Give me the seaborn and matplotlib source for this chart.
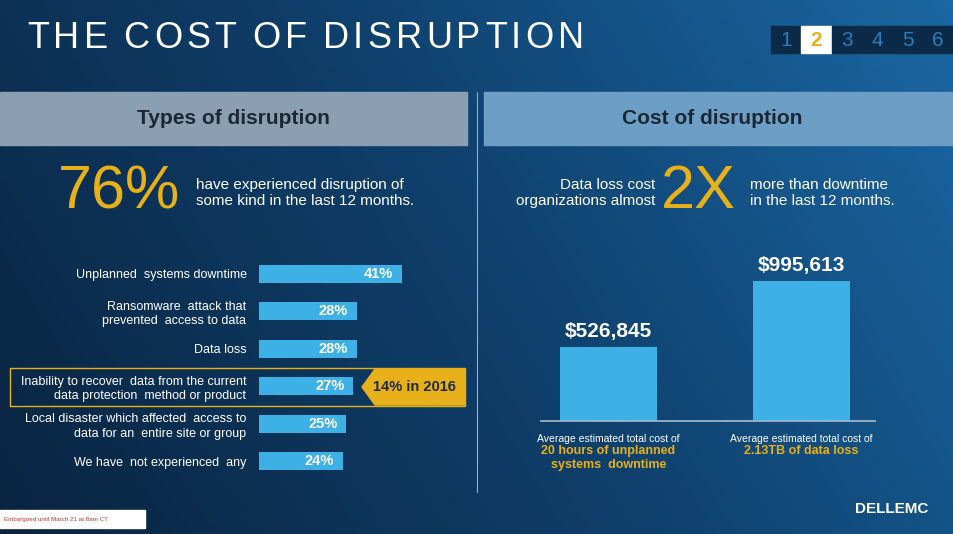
import numpy as np
import pandas as pd
import matplotlib
matplotlib.use("Agg")
import matplotlib.pyplot as plt
from matplotlib.patches import Rectangle, Polygon
from matplotlib.colors import LinearSegmentedColormap
import seaborn as sns

# data
types = ["Unplanned  systems downtime",
         "Ransomware  attack that\nprevented  access to data",
         "Data loss",
         "Inability to recover  data from the current\ndata protection  method or product",
         "Local disaster which affected  access to\ndata for an  entire site or group",
         "We have  not experienced  any"]
type_pct = [41, 28, 28, 27, 25, 24]
cost_labels = ["downtime", "data loss"]
cost_values = [526845, 995613]
cost_captions = [("Average estimated total cost of", "20 hours of unplanned\nsystems  downtime"),
                 ("Average estimated total cost of", "2.13TB of data loss")]

W, H = 954, 534
BAR = "#3db0e6"
YEL = "#e8b019"

sns.set_theme(style="white")
plt.rcParams["font.family"] = ["Liberation Sans", "DejaVu Sans"]

fig = plt.figure(figsize=(W / 100, H / 100), dpi=100)


def px(x, y):
    return x / W, 1 - y / H


def ax_px(x0, y0, x1, y1):
    return fig.add_axes([x0 / W, 1 - y1 / H, (x1 - x0) / W, (y1 - y0) / H])


# background gradient
bg = fig.add_axes([0, 0, 1, 1])
gx, gy = np.meshgrid(np.linspace(0, 1, 200), np.linspace(0, 1, 120))
cmap = LinearSegmentedColormap.from_list("bg", ["#0a2440", "#0f3f6b", "#1a67a3"])
bg.imshow(0.75 * gx + 0.25 * (1 - gy), cmap=cmap, aspect="auto", extent=[0, W, H, 0])
bg.set_xlim(0, W)
bg.set_ylim(H, 0)
bg.axis("off")

# header bands
bg.add_patch(Rectangle((0, 92), 467, 53, color="#8a9fb2"))
bg.add_patch(Rectangle((484, 92), 470, 53, color="#6d9ec6"))
bg.plot([477, 477], [92, 492], color="#8fb0cc", lw=0.8)

# page tabs
for i in range(6):
    x0 = 771 + i * 30.5
    face = "white" if i == 1 else "#0b2a47"
    bg.add_patch(Rectangle((x0, 26), 29.5, 27, color=face))
    bg.text(x0 + 14.7, 40, str(i + 1), ha="center", va="center", fontsize=15,
            color=YEL if i == 1 else "#2a7cc0", fontweight="bold" if i == 1 else "normal")

# highlight box and arrow
bg.add_patch(Rectangle((10, 368), 455, 38, fill=False, ec=YEL, lw=1))
bg.add_patch(Polygon([(375, 369), (465, 369), (465, 405), (375, 405), (362, 387)], color=YEL))
bg.text(414, 387, "14% in 2016", ha="center", va="center", fontsize=10.5,
        fontweight="bold", color="#1e2a36")

# footer
bg.add_patch(Rectangle((0, 510), 145, 18, color="white"))
bg.text(4, 519, "Embargoed until March 21 at 8am CT", fontsize=4.5, color="#c0392b", va="center")
bg.text(892, 509, "DELLEMC", ha="center", va="center", fontsize=11, color="white", fontweight="bold")

# title with letter spacing
renderer = fig.canvas.get_renderer()
x = 27
for ch in "THE COST OF DISRUPTION":
    t = bg.text(x, 38, ch, fontsize=26, color="white", va="center")
    x += t.get_window_extent(renderer).width if ch != " " else 7
    x += 4.3

fig.text(*px(233, 119), "Types of disruption", fontsize=15, fontweight="bold", color="#1b2733",
         ha="center", va="center")
fig.text(*px(712, 119), "Cost of disruption", fontsize=15, fontweight="bold", color="#1b2733",
         ha="center", va="center")
fig.text(*px(58, 193), "76%", fontsize=44, color=YEL, va="center")
fig.text(*px(196, 193), "have experienced disruption of\nsome kind in the last 12 months.",
         fontsize=11, color="white", va="center", linespacing=1.1)
fig.text(*px(655, 193), "Data loss cost\norganizations almost", fontsize=11, color="white",
         va="center", ha="right", linespacing=1.1)
fig.text(*px(698, 193), "2X", fontsize=44, color=YEL, va="center", ha="center")
fig.text(*px(750, 193), "more than downtime\nin the last 12 months.", fontsize=11, color="white",
         va="center", linespacing=1.1)

# left bar chart
ax1 = ax_px(259, 255, 468, 480)
df1 = pd.DataFrame({"type": types, "pct": type_pct})
sns.barplot(data=df1, y="type", x="pct", orient="h", color=BAR, saturation=1, width=0.48,
            linewidth=0, edgecolor="none", ax=ax1)
ax1.set_xlim(0, 60)
ax1.set_ylim(5.5, -0.5)
ax1.set_xticks([])
ax1.set_xlabel("")
ax1.set_ylabel("")
ax1.tick_params(axis="y", length=0, pad=9, labelsize=9, labelcolor="white")
for lab in ax1.get_yticklabels():
    lab.set_linespacing(1.3)
ax1.patch.set_alpha(0)
sns.despine(ax=ax1, left=True, bottom=True)
for i, v in enumerate(type_pct):
    ax1.text(v - 2.5, i, f"{v}%", ha="right", va="center", color="white",
             fontsize=10.5, fontweight="bold")

# right bar chart
ax2 = ax_px(512, 252, 898, 421)
df2 = pd.DataFrame({"kind": cost_labels, "cost": cost_values})
sns.barplot(data=df2, x="kind", y="cost", color=BAR, saturation=1, width=0.5,
            linewidth=0, edgecolor="none", ax=ax2)
ax2.set_xlim(-0.5, 1.5)
ax2.set_ylim(0, 1.2e6)
ax2.set_xticks([])
ax2.set_yticks([])
ax2.set_xlabel("")
ax2.set_ylabel("")
ax2.patch.set_alpha(0)
sns.despine(ax=ax2, left=True)
ax2.spines["bottom"].set_color("#9fb8cc")
ax2.spines["bottom"].set_bounds(-0.35, 1.38)
for i, v in enumerate(cost_values):
    ax2.text(i, v + 40000, f"${v:,}", ha="center", va="bottom", color="white",
             fontsize=15, fontweight="bold")
    top, bold = cost_captions[i]
    ax2.text(i, -125000, top, ha="center", va="center", color="white", fontsize=7.5)
    ax2.text(i, -170000, bold, ha="center", va="top", color=YEL, fontsize=9,
             fontweight="bold", linespacing=1.2)

fig.savefig("out.png", dpi=100)
